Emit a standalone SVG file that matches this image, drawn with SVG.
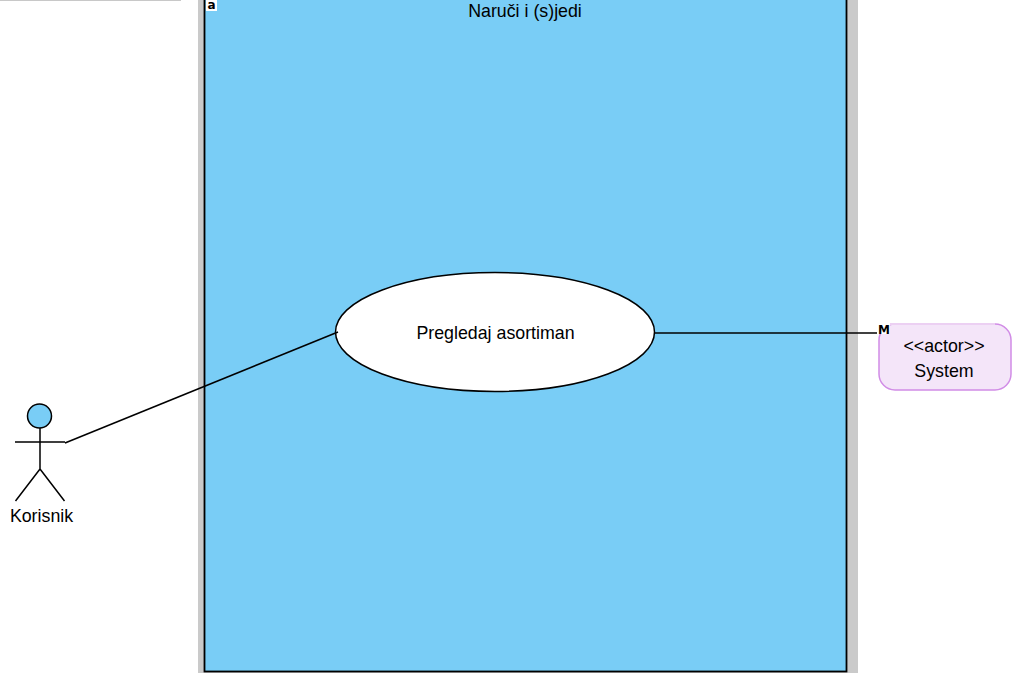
<svg xmlns="http://www.w3.org/2000/svg" width="1013" height="673" viewBox="0 0 1013 673">
<style>
text{font-family:"Liberation Sans",Arial,sans-serif;font-size:17.800px;fill:#000;text-anchor:middle}
.ln{fill:none;stroke:#000;stroke-width:1.500}
text.tiny{font-family:"DejaVu Sans",sans-serif;font-size:12px;font-weight:bold}
</style>
<rect width="1013" height="673" fill="#fff"/>
<rect x="0" y="0" width="181" height="1" fill="#c8c8c8"/>
<g id="system-boundary">
<rect x="198" y="-4" width="660" height="677" fill="#cacaca"/>
<rect x="204.500" y="-4" width="642" height="675.500" fill="#79cdf6" stroke="#000" stroke-width="1.800"/>
<text x="525" y="17">Naruči i (s)jedi</text>
<rect x="206" y="0" width="11" height="11" fill="#fff"/>
<text class="tiny" x="211.500" y="9">a</text>
</g>
<g id="usecase">
<ellipse cx="495" cy="332" rx="159.500" ry="59.500" fill="#fff" stroke="#000" stroke-width="1.500"/>
<text x="495.500" y="339">Pregledaj asortiman</text>
</g>
<g id="actor-korisnik">
<circle cx="39.500" cy="416" r="12" fill="#79cdf6" stroke="#000" stroke-width="1.500"/>
<path class="ln" d="M40 428V469M15 442H65M40 469L15.500 501M40 469L64.500 501"/>
<text x="41.500" y="522">Korisnik</text>
</g>
<g id="actor-system">
<rect x="879" y="324" width="132" height="66" rx="16" fill="#f4e5f9" stroke="#d18ce6" stroke-width="1.500"/>
<rect x="890" y="323" width="105" height="2" fill="#ecd0f3"/>
<rect x="878" y="323" width="12" height="11" fill="#fff"/>
<text class="tiny" x="884" y="334">M</text>
<text x="944" y="352">&lt;&lt;actor&gt;&gt;</text>
<text x="944" y="377">System</text>
</g>
<g id="connectors">
<path class="ln" d="M65 443L338 332"/>
<path class="ln" d="M654 333H877"/>
</g>
</svg>
